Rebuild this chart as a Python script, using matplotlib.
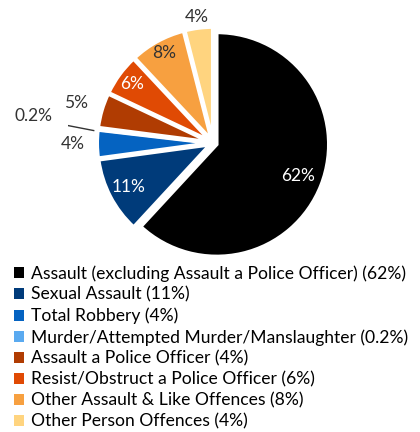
import numpy as np
import matplotlib
matplotlib.use("Agg")
import matplotlib.pyplot as plt

plt.rcParams['font.family'] = ['Lato', 'DejaVu Sans']

categories = ['Assault (excluding Assault a Police Officer) (62%)',
              'Sexual Assault (11%)',
              'Total Robbery (4%)',
              'Murder/Attempted Murder/Manslaughter (0.2%)',
              'Assault a Police Officer (4%)',
              'Resist/Obstruct a Police Officer (6%)',
              'Other Assault & Like Offences (8%)',
              'Other Person Offences (4%)']
values = [62, 11, 4, 0.2, 5, 6, 8, 4]
slice_labels = ['62%', '11%', '4%', '0.2%', '5%', '6%', '8%', '4%']

colors = ['#000000', '#003b7a', '#0563c1', '#5aaaf0',
          '#b03c02', '#e04a04', '#f7a040', '#ffd47f']
label_dist = [0.78, 0.82, 1.22, 1.58, 1.24, 0.86, 0.88, 1.10]
label_color = ['white', 'white', '#333333', '#333333',
               '#333333', 'white', '#333333', '#333333']

fig = plt.figure(figsize=(4.2, 4.32), dpi=100)
ax = fig.add_axes([0.161, 0.332, 0.693, 0.674])

wedges, _ = ax.pie(values, colors=colors, startangle=90, counterclock=False,
                   explode=[0.035] * len(values),
                   wedgeprops=dict(edgecolor='white', linewidth=2.5))

for w, lab, d, c in zip(wedges, slice_labels, label_dist, label_color):
    ang = np.deg2rad((w.theta1 + w.theta2) / 2)
    cx, cy = w.center
    x = cx + d * np.cos(ang)
    y = cy + d * np.sin(ang)
    if lab == '0.2%':
        # leader line for the tiny slice
        ax.plot([cx + 1.04 * np.cos(ang), cx + 1.30 * np.cos(ang)],
                [cy + 1.04 * np.sin(ang) - 0.02, cy + 1.04 * np.sin(ang) + 0.03],
                color='#333333', lw=1)
        ax.text(x, y + 0.04, lab, ha='center', va='center', fontsize=12.5, color=c)
    else:
        ax.text(x, y, lab, ha='center', va='center', fontsize=12.5, color=c)

ax.set_xlim(-1.3, 1.3)
ax.set_ylim(-1.3, 1.3)
ax.set_aspect('equal')
ax.axis('off')

leg = fig.legend(wedges, categories, loc='upper left', bbox_to_anchor=(0.033, 0.386),
                 frameon=False, fontsize=12.6, handlelength=0.6, handleheight=0.6,
                 handletextpad=0.4, labelspacing=0.28, borderaxespad=0, borderpad=0)
for h in leg.legend_handles:
    h.set_edgecolor('none')

fig.savefig('out.png', dpi=100)
